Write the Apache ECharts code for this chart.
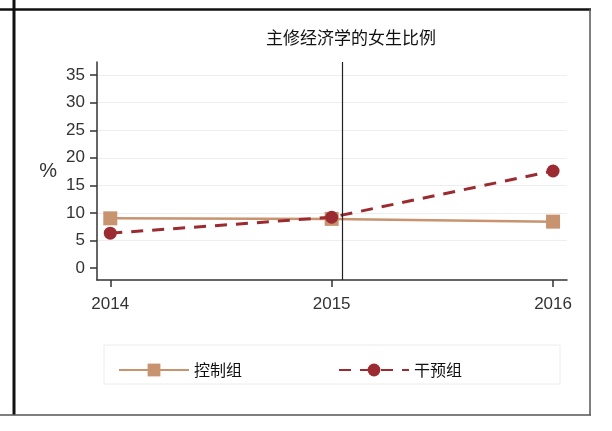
<!DOCTYPE html>
<html>
<head>
<meta charset="utf-8">
<script src="https://cdn.jsdelivr.net/npm/echarts@6/dist/echarts.min.js"></script>
<style>
html, body { margin: 0; padding: 0; background: #fff; }
#chart { width: 612px; height: 431px; }
</style>
</head>
<body>
<div id="chart"></div>
<script>
const years = [2014, 2015, 2016];
const controlGroup = [9.0, 8.9, 8.4];
const treatmentGroup = [6.3, 9.2, 17.6];
const yTicks = [0, 5, 10, 15, 20, 25, 30, 35];
const gridValues = [5, 10, 15, 20, 25, 30, 35];
const seriesNames = ['控制组', '干预组'];
const titleText = '主修经济学的女生比例';
const policyYear = 2015.05;

const colors = {
    control: '#c8946f',
    treatment: '#9b2b30'
};

window.onload = () => {
    const chart = echarts.init(document.getElementById('chart'));

    const option = {
        animation: false,
        title: {
            text: titleText,
            left: 346,
            top: 24,
            textAlign: 'center',
            textStyle: { fontFamily: 'Noto Sans CJK SC', fontSize: 17, fontWeight: 'normal', color: '#111' }
        },
        grid: { left: 97, right: 45, top: 62, bottom: 151 },
        xAxis: {
            type: 'value',
            min: 2013.94,
            max: 2016.063,
            axisLine: { onZero: false, lineStyle: { color: '#333', width: 1.5 } },
            axisTick: { show: true, length: 7, customValues: years, lineStyle: { color: '#333', width: 1.5 } },
            axisLabel: {
                customValues: years,
                formatter: v => String(v),
                fontFamily: 'Liberation Sans', fontSize: 17, color: '#333', margin: 16
            },
            splitLine: { show: false }
        },
        yAxis: {
            type: 'value',
            min: -2.2,
            max: 37.4,
            name: '%',
            nameLocation: 'middle',
            nameRotate: 0,
            nameGap: 40,
            nameTextStyle: { fontFamily: 'Liberation Sans', fontSize: 20, color: '#333' },
            axisLine: { show: true, onZero: false, lineStyle: { color: '#333', width: 1.5 } },
            axisTick: { show: true, length: 7, customValues: yTicks, lineStyle: { color: '#333', width: 1.5 } },
            axisLabel: {
                customValues: yTicks,
                fontFamily: 'Liberation Sans', fontSize: 17, color: '#333', margin: 12
            },
            splitLine: { show: false }
        },
        legend: {
            left: 113,
            top: 357,
            itemWidth: 70,
            itemHeight: 16,
            itemGap: 96,
            textStyle: { fontFamily: 'Noto Sans CJK SC', fontSize: 16, color: '#111' },
            data: seriesNames
        },
        graphic: [
            // figure frame
            { type: 'line', shape: { x1: 0, y1: 9.5, x2: 591, y2: 9.5 }, style: { stroke: '#111', lineWidth: 2.5 } },
            { type: 'line', shape: { x1: 14, y1: 0, x2: 14, y2: 415 }, style: { stroke: '#111', lineWidth: 3 } },
            { type: 'line', shape: { x1: 590, y1: 9, x2: 590, y2: 415 }, style: { stroke: '#555', lineWidth: 1.5 } },
            { type: 'line', shape: { x1: 0, y1: 415, x2: 591, y2: 415 }, style: { stroke: '#555', lineWidth: 1.5 } },
            // legend box
            { type: 'rect', shape: { x: 104, y: 345, width: 456, height: 39 }, style: { fill: 'none', stroke: '#ececec', lineWidth: 1 } }
        ],
        series: [
            {
                name: seriesNames[0],
                type: 'line',
                data: years.map((y, i) => [y, controlGroup[i]]),
                symbol: 'rect',
                symbolSize: 14,
                lineStyle: { color: colors.control, width: 2.5 },
                itemStyle: { color: colors.control },
                z: 2,
                markLine: {
                    silent: true,
                    symbol: 'none',
                    label: { show: false },
                    lineStyle: { color: '#222', width: 1.2, type: 'solid' },
                    data: [{ xAxis: policyYear }]
                }
            },
            {
                name: seriesNames[1],
                type: 'line',
                data: years.map((y, i) => [y, treatmentGroup[i]]),
                symbol: 'circle',
                symbolSize: 13,
                lineStyle: { color: colors.treatment, width: 3, type: [12, 9] },
                itemStyle: { color: colors.treatment },
                z: 3,
                markLine: {
                    silent: true,
                    symbol: 'none',
                    label: { show: false },
                    lineStyle: { color: '#eeeeee', width: 1, type: 'solid' },
                    z: 0,
                    data: gridValues.map(v => ({ yAxis: v }))
                }
            }
        ]
    };

    chart.setOption(option);
};
</script>
</body>
</html>
